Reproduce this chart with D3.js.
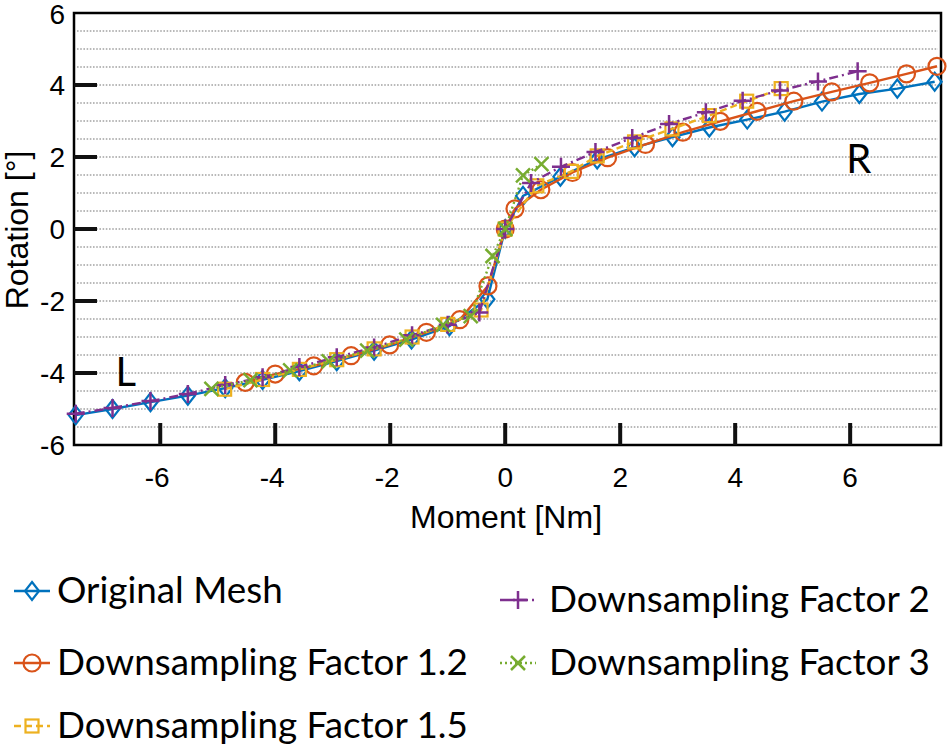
<!DOCTYPE html>
<html>
<head>
<meta charset="utf-8">
<script src="https://cdn.jsdelivr.net/npm/d3@7"></script>
<style>
  html, body { margin: 0; padding: 0; background: #fff; }
  svg { display: block; }
</style>
</head>
<body>
<svg id="chart" width="950" height="753"></svg>
<script>
// ---------- data ----------
const seriesNames = ["Original Mesh", "Downsampling Factor 1.2", "Downsampling Factor 1.5", "Downsampling Factor 2", "Downsampling Factor 3"];

const origX = [-7.47,-6.83,-6.17,-5.52,-4.87,-4.22,-3.58,-2.93,-2.28,-1.63,-0.97,-0.31,0,0.31,0.96,1.6,2.25,2.91,3.55,4.21,4.86,5.51,6.16,6.82,7.47];
const origY = [-5.17,-5.0,-4.81,-4.63,-4.42,-4.19,-3.95,-3.67,-3.38,-3.07,-2.7,-1.95,0,0.92,1.45,1.93,2.27,2.55,2.82,3.04,3.26,3.54,3.75,3.9,4.09];

const f12X = [-4.52,-4.0,-3.33,-2.68,-2.01,-1.37,-0.79,-0.3,0,0.17,0.62,1.17,1.78,2.44,3.09,3.74,4.38,5.02,5.68,6.34,6.98,7.51];
const f12Y = [-4.26,-4.03,-3.8,-3.52,-3.22,-2.87,-2.52,-1.58,0,0.56,1.09,1.57,1.98,2.35,2.69,2.99,3.27,3.55,3.81,4.06,4.31,4.52];

const f15X = [-4.88,-4.22,-3.58,-2.93,-2.28,-1.62,-1.0,-0.42,0,0.55,1.15,1.6,2.25,2.9,3.55,4.2,4.8];
const f15Y = [-4.45,-4.18,-3.9,-3.63,-3.33,-3.0,-2.65,-2.25,0,1.2,1.6,2.03,2.42,2.78,3.15,3.55,3.9];

const f2X = [-7.47,-6.83,-6.17,-5.52,-4.87,-4.22,-3.58,-2.93,-2.28,-1.62,-1.0,-0.45,0,0.45,0.97,1.57,2.21,2.85,3.49,4.13,4.78,5.44,6.13];
const f2Y = [-5.13,-4.97,-4.78,-4.58,-4.33,-4.12,-3.83,-3.56,-3.29,-2.95,-2.66,-2.32,0,1.28,1.73,2.14,2.53,2.92,3.24,3.56,3.85,4.1,4.38];

const f3X = [-5.11,-4.43,-3.74,-3.07,-2.4,-1.72,-1.08,-0.6,-0.22,0,0.31,0.63];
const f3Y = [-4.44,-4.2,-3.93,-3.68,-3.38,-3.07,-2.66,-2.42,-0.75,0,1.49,1.8];

const seriesX = [origX, f12X, f15X, f2X, f3X];
const seriesY = [origY, f12Y, f15Y, f2Y, f3Y];
const colors = ["#0072BD", "#D95319", "#EDB120", "#7E2F8E", "#77AC30"];
const dashes = [null, null, "7,4", "9,4,2,4", "2,3"];
const markers = ["diamond", "circle", "square", "plus", "cross"];

const xTicks = [-6, -4, -2, 0, 2, 4, 6];
const yTicks = [-6, -4, -2, 0, 2, 4, 6];
const yGrid = d3.range(-5.5, 6, 0.5);
const xLabel = "Moment [Nm]";
const yLabel = "Rotation [°]";
const annotations = [{text: "L", x: -6.6, y: -4.35}, {text: "R", x: 6.15, y: 1.55}];

// ---------- layout ----------
const svg = d3.select("#chart");
const L = 74, R = 941, T = 13, B = 445;
const xs = d3.scaleLinear().domain([-7.5, 7.58]).range([L, R]);
const ys = d3.scaleLinear().domain([-6, 6]).range([B, T]);
const fmt = d => String(d);

// grid
svg.append("g").selectAll("line").data(yGrid).join("line")
  .attr("x1", L + 3).attr("x2", R - 3)
  .attr("y1", d => ys(d)).attr("y2", d => ys(d))
  .attr("stroke", "#a3a3a3").attr("stroke-width", 1.6)
  .attr("stroke-dasharray", "1.6,1.6");

// frame
svg.append("rect").attr("x", L).attr("y", T).attr("width", R - L).attr("height", B - T)
  .attr("fill", "none").attr("stroke", "#000").attr("stroke-width", 2.5);

// ticks (inward)
const tickFont = "'Liberation Sans', Arial, sans-serif";
svg.append("g").attr("id", "xtickmarks").selectAll("rect").data(xTicks).join("rect")
  .attr("x", d => xs(d) - 2).attr("y", B - 22).attr("width", 4).attr("height", 22)
  .attr("fill", "#111");
svg.append("g").attr("id", "ytickmarks").selectAll("rect").data(yTicks.filter(d => Math.abs(d) < 6)).join("rect")
  .attr("x", L).attr("y", d => ys(d) - 2).attr("width", 23).attr("height", 4)
  .attr("fill", "#111");

svg.append("g").selectAll("text").data(xTicks).join("text")
  .attr("x", d => xs(d) - (d < 0 ? 3 : 0)).attr("y", 487).attr("text-anchor", "middle")
  .style("font-family", tickFont).style("font-size", "28px").text(fmt);
svg.append("g").selectAll("text").data(yTicks).join("text")
  .attr("x", 65).attr("y", d => Math.max(ys(d) + 10, 24)).attr("text-anchor", "end")
  .style("font-family", tickFont).style("font-size", "28px").text(fmt);

// axis labels
svg.append("text").attr("x", 506).attr("y", 528).attr("text-anchor", "middle")
  .style("font-family", tickFont).style("font-size", "32px").text(xLabel);
svg.append("text").attr("transform", "translate(28,230) rotate(-90)").attr("text-anchor", "middle")
  .style("font-family", tickFont).style("font-size", "32px").text(yLabel);

// marker drawing
function drawMarker(g, type, cx, cy, color) {
  const sw = 2.2;
  if (type === "diamond") {
    g.append("path").attr("d", `M${cx},${cy-9}L${cx+7},${cy}L${cx},${cy+9}L${cx-7},${cy}Z`)
      .attr("fill", "none").attr("stroke", color).attr("stroke-width", sw);
  } else if (type === "circle") {
    g.append("circle").attr("cx", cx).attr("cy", cy).attr("r", 8.5)
      .attr("fill", "none").attr("stroke", color).attr("stroke-width", sw);
  } else if (type === "square") {
    g.append("rect").attr("x", cx-6.5).attr("y", cy-6.5).attr("width", 13).attr("height", 13)
      .attr("fill", "none").attr("stroke", color).attr("stroke-width", sw);
  } else if (type === "plus") {
    g.append("path").attr("d", `M${cx-9},${cy}H${cx+9}M${cx},${cy-9}V${cy+9}`)
      .attr("fill", "none").attr("stroke", color).attr("stroke-width", sw + 0.3);
  } else if (type === "cross") {
    g.append("path").attr("d", `M${cx-7},${cy-7}L${cx+7},${cy+7}M${cx-7},${cy+7}L${cx+7},${cy-7}`)
      .attr("fill", "none").attr("stroke", color).attr("stroke-width", sw + 0.3);
  }
}

// series
const line = d3.line().x(d => xs(d[0])).y(d => ys(d[1]));
seriesNames.forEach((name, i) => {
  const pts = seriesX[i].map((v, j) => [v, seriesY[i][j]]);
  const g = svg.append("g");
  g.append("path").datum(pts).attr("d", line)
    .attr("fill", "none").attr("stroke", colors[i]).attr("stroke-width", 2.4)
    .attr("stroke-dasharray", dashes[i]);
  pts.forEach(p => drawMarker(g, markers[i], xs(p[0]), ys(p[1]), colors[i]));
});

// annotations
svg.append("g").selectAll("text").data(annotations).join("text")
  .attr("x", d => xs(d.x)).attr("y", d => ys(d.y))
  .attr("text-anchor", "middle")
  .style("font-family", "Lato, 'Open Sans', sans-serif").style("font-size", "40px")
  .text(d => d.text);

// legend
const legendPos = [
  {mx: 32, tx: 57, by: 603},
  {mx: 32, tx: 57, by: 675},
  {mx: 32, tx: 57, by: 738},
  {mx: 518, tx: 549, by: 612},
  {mx: 518, tx: 549, by: 675}
];
const lg = svg.append("g");
seriesNames.forEach((name, i) => {
  const p = legendPos[i];
  const cy = p.by - 12;
  lg.append("line").attr("x1", p.mx - 18).attr("x2", p.mx + 18).attr("y1", cy).attr("y2", cy)
    .attr("stroke", colors[i]).attr("stroke-width", 2.4).attr("stroke-dasharray", dashes[i]);
  drawMarker(lg, markers[i], p.mx, cy, colors[i]);
  lg.append("text").attr("x", p.tx).attr("y", p.by)
    .style("font-family", "Lato, 'Open Sans', sans-serif").style("font-size", "36.8px")
    .text(name);
});
</script>
</body>
</html>
